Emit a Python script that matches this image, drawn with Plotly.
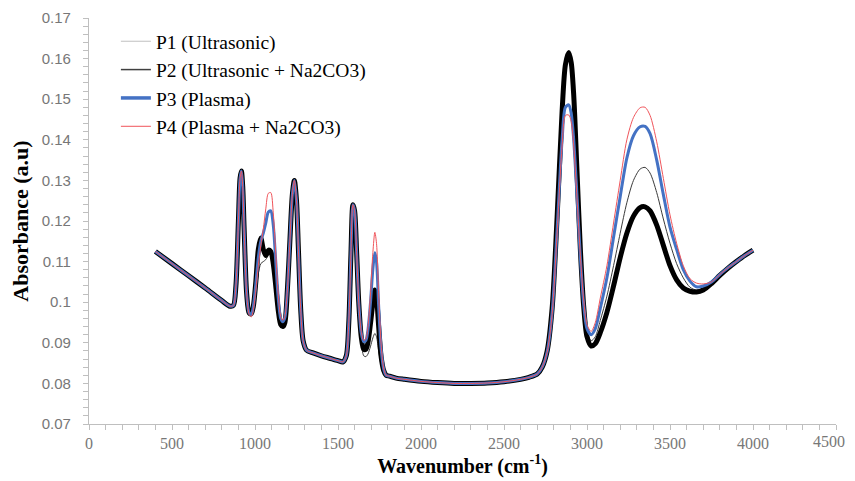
import plotly.graph_objects as go

# Wavenumber grid (cm-1)
wavenumber = [
    400, 500, 600, 700, 800, 850, 870, 885, 900, 910, 918, 926, 935, 950, 965, 978,
    990, 1005, 1020, 1035, 1050, 1065, 1080, 1095, 1110, 1125, 1140, 1155, 1168,
    1180, 1195, 1210, 1225, 1237, 1250, 1262, 1275, 1290, 1310, 1350, 1400, 1450, 1500,
    1530, 1550, 1565, 1578, 1590, 1600, 1612, 1625, 1640,
    1655, 1668, 1680, 1695, 1710, 1722, 1732, 1745, 1760, 1775, 1790,
    1810, 1850, 1900, 2000, 2100, 2200, 2300, 2400, 2500, 2600, 2650, 2700,
    2730, 2760, 2790, 2820, 2850, 2870, 2890, 2905, 2920, 2940, 2960, 2980, 3000,
    3025, 3050, 3080, 3120, 3160, 3200, 3240, 3280, 3320, 3350, 3380, 3420, 3460, 3500,
    3540, 3580, 3620, 3660, 3700,
    3750, 3800, 3850, 3900, 3950, 4000,
]

p1 = [
    0.1125, 0.1095, 0.1065, 0.1035, 0.1004, 0.0990, 0.0992, 0.1040, 0.1200, 0.1305, 0.1323, 0.1285, 0.1175, 0.1020, 0.0973, 0.0972,
    0.0985, 0.1025, 0.1070, 0.1095, 0.1100, 0.1105, 0.1115, 0.1120, 0.1100, 0.1050, 0.0990, 0.0955, 0.0950,
    0.0965, 0.1030, 0.1150, 0.1265, 0.1300, 0.1250, 0.1125, 0.0985, 0.0905, 0.0882, 0.0875, 0.0868, 0.0862, 0.0856,
    0.0853, 0.0868, 0.0950, 0.1120, 0.1240, 0.1225, 0.1125, 0.1000, 0.0905,
    0.0868, 0.0866, 0.0872, 0.0890, 0.0912, 0.0923, 0.0915, 0.0880, 0.0845, 0.0828, 0.0820,
    0.0818, 0.0813, 0.0810, 0.0805, 0.0802, 0.0800, 0.0800, 0.0801, 0.0804, 0.0810, 0.0815, 0.0823,
    0.0840, 0.0880, 0.0985, 0.1205, 0.1462, 0.1575, 0.1603, 0.1580, 0.1500, 0.1315, 0.1135, 0.1000, 0.0930,
    0.0905, 0.0915, 0.0955, 0.1015, 0.1090, 0.1170, 0.1245, 0.1300, 0.1328, 0.1332, 0.1318, 0.1270, 0.1205, 0.1145,
    0.1095, 0.1060, 0.1037, 0.1030, 0.1035,
    0.1050, 0.1068, 0.1085, 0.1100, 0.1115, 0.1128,
]

p2 = [
    0.1125, 0.1095, 0.1065, 0.1035, 0.1004, 0.0990, 0.0992, 0.1040, 0.1200, 0.1305, 0.1323, 0.1285, 0.1175, 0.1020, 0.0973, 0.0972,
    0.0990, 0.1050, 0.1130, 0.1158, 0.1130, 0.1115, 0.1128, 0.1125, 0.1095, 0.1040, 0.0980, 0.0945, 0.0940,
    0.0950, 0.1030, 0.1150, 0.1265, 0.1300, 0.1250, 0.1125, 0.0985, 0.0905, 0.0882, 0.0875, 0.0868, 0.0862, 0.0856,
    0.0853, 0.0868, 0.0950, 0.1120, 0.1240, 0.1225, 0.1125, 0.1000, 0.0915,
    0.0884, 0.0884, 0.0900, 0.0945, 0.0998, 0.1030, 0.1012, 0.0940, 0.0865, 0.0832, 0.0820,
    0.0818, 0.0813, 0.0810, 0.0805, 0.0802, 0.0800, 0.0800, 0.0801, 0.0804, 0.0810, 0.0815, 0.0823,
    0.0840, 0.0880, 0.0985, 0.1210, 0.1470, 0.1585, 0.1615, 0.1590, 0.1510, 0.1320, 0.1130, 0.0990, 0.0915,
    0.0892, 0.0898, 0.0925, 0.0975, 0.1040, 0.1110, 0.1170, 0.1212, 0.1233, 0.1235, 0.1225, 0.1190, 0.1140, 0.1090,
    0.1055, 0.1035, 0.1027, 0.1025, 0.1030,
    0.1046, 0.1066, 0.1084, 0.1100, 0.1115, 0.1128,
]

p3 = [
    0.1125, 0.1095, 0.1065, 0.1035, 0.1004, 0.0990, 0.0992, 0.1040, 0.1200, 0.1305, 0.1323, 0.1285, 0.1175, 0.1020, 0.0973, 0.0970,
    0.0990, 0.1045, 0.1110, 0.1150, 0.1170, 0.1195, 0.1222, 0.1225, 0.1190, 0.1100, 0.1010, 0.0960, 0.0952,
    0.0962, 0.1030, 0.1150, 0.1265, 0.1300, 0.1250, 0.1125, 0.0985, 0.0905, 0.0882, 0.0875, 0.0868, 0.0862, 0.0856,
    0.0853, 0.0868, 0.0950, 0.1120, 0.1240, 0.1225, 0.1125, 0.1000, 0.0925,
    0.0903, 0.0906, 0.0930, 0.0995, 0.1082, 0.1122, 0.1100, 0.0990, 0.0885, 0.0836, 0.0820,
    0.0818, 0.0813, 0.0810, 0.0805, 0.0802, 0.0800, 0.0800, 0.0801, 0.0804, 0.0810, 0.0815, 0.0823,
    0.0840, 0.0878, 0.0975, 0.1180, 0.1400, 0.1480, 0.1486, 0.1465, 0.1400, 0.1260, 0.1110, 0.0995, 0.0935,
    0.0920, 0.0935, 0.0985, 0.1060, 0.1160, 0.1260, 0.1355, 0.1410, 0.1432, 0.1433, 0.1415, 0.1350, 0.1265, 0.1185,
    0.1130, 0.1080, 0.1052, 0.1038, 0.1040,
    0.1050, 0.1068, 0.1085, 0.1100, 0.1115, 0.1128,
]

p4 = [
    0.1125, 0.1095, 0.1065, 0.1035, 0.1004, 0.0990, 0.0992, 0.1040, 0.1200, 0.1305, 0.1323, 0.1285, 0.1175, 0.1020, 0.0970, 0.0964,
    0.0982, 0.1030, 0.1090, 0.1140, 0.1180, 0.1230, 0.1268, 0.1270, 0.1220, 0.1120, 0.1020, 0.0965, 0.0955,
    0.0965, 0.1030, 0.1150, 0.1265, 0.1300, 0.1250, 0.1125, 0.0985, 0.0905, 0.0882, 0.0875, 0.0868, 0.0862, 0.0856,
    0.0853, 0.0868, 0.0950, 0.1120, 0.1240, 0.1225, 0.1125, 0.1000, 0.0928,
    0.0906, 0.0910, 0.0938, 0.1015, 0.1122, 0.1172, 0.1145, 0.1020, 0.0895, 0.0838, 0.0820,
    0.0818, 0.0813, 0.0810, 0.0805, 0.0802, 0.0800, 0.0800, 0.0801, 0.0804, 0.0810, 0.0815, 0.0823,
    0.0840, 0.0877, 0.0970, 0.1170, 0.1385, 0.1460, 0.1461, 0.1445, 0.1385, 0.1255, 0.1115, 0.1005, 0.0945,
    0.0928, 0.0950, 0.1010, 0.1090, 0.1195, 0.1300, 0.1400, 0.1455, 0.1479, 0.1480, 0.1460, 0.1395, 0.1305, 0.1215,
    0.1145, 0.1090, 0.1058, 0.1047, 0.1045,
    0.1050, 0.1068, 0.1085, 0.1100, 0.1115, 0.1128,
]

series_names = ["P1 (Ultrasonic)", "P2 (Ultrasonic + Na2CO3)", "P3 (Plasma)", "P4 (Plasma + Na2CO3)"]
x_tick_vals = [0, 500, 1000, 1500, 2000, 2500, 3000, 3500, 4000, 4500]
x_tick_text = ["0", "500", "1000", "1500", "2000", "2500", "3000", "3500", "4000", "4500"]
y_tick_vals = [0.07, 0.08, 0.09, 0.10, 0.11, 0.12, 0.13, 0.14, 0.15, 0.16, 0.17]
y_tick_text = ["0.07", "0.08", "0.09", "0.1", "0.11", "0.12", "0.13", "0.14", "0.15", "0.16", "0.17"]

plot_styles = [
    dict(color="#3a3a3a", width=1),
    dict(color="#000000", width=5),
    dict(color="#4472C4", width=3),
    dict(color="#F0545A", width=1),
]
legend_styles = [
    dict(color="#BFBFBF", width=1),
    dict(color="#404040", width=1.5),
    dict(color="#4472C4", width=3.5),
    dict(color="#F0545A", width=1),
]

SERIF = "serif"
TICK_GRAY = "#777777"

fig = go.Figure()
for name, ys, st in zip(series_names, [p1, p2, p3, p4], plot_styles):
    fig.add_trace(go.Scatter(x=wavenumber, y=ys, mode="lines", name=name,
                             line=dict(shape="spline", smoothing=0.8, **st),
                             showlegend=False, hoverinfo="skip"))
for name, st in zip(series_names, legend_styles):
    fig.add_trace(go.Scatter(x=[None], y=[None], mode="lines", name=name,
                             line=st, showlegend=True))

# the last x tick label sits at the page edge: draw it as an annotation kept inside the page
shown_tick_text = x_tick_text[:-1] + [""]
fig.add_annotation(x=x_tick_vals[-1], xref="x", y=0, yref="paper", yanchor="top", xanchor="right",
                   xshift=11, yshift=-7, text=x_tick_text[-1], showarrow=False,
                   font=dict(family=SERIF, size=16, color=TICK_GRAY))

axis_gray = "#BFBFBF"
fig.update_layout(
    width=847, height=473,
    margin=dict(l=81, r=19, t=10, b=57),
    paper_bgcolor="white", plot_bgcolor="white",
    font=dict(family=SERIF),
    legend=dict(x=0.036, y=0.99, xanchor="left", yanchor="top",
                font=dict(family=SERIF, size=19.5, color="black"),
                bgcolor="rgba(0,0,0,0)", tracegroupgap=0, itemwidth=30),
    xaxis=dict(range=[0, 4500], tickvals=x_tick_vals, ticktext=shown_tick_text,
               showgrid=False, zeroline=False, automargin=False,
               showline=True, linecolor=axis_gray, linewidth=1.3,
               ticks="outside", ticklen=5, tickcolor=axis_gray,
               minor=dict(dtick=100, ticks="outside", ticklen=5, tickcolor=axis_gray, showgrid=False),
               tickfont=dict(family=SERIF, size=16, color=TICK_GRAY),
               title=dict(text="<b>Wavenumber (cm<sup>-1</sup>)</b>",
                          font=dict(family=SERIF, size=20, color="black"), standoff=7)),
    yaxis=dict(range=[0.07, 0.17], tickvals=y_tick_vals, ticktext=y_tick_text, showgrid=False,
               zeroline=False, automargin=False, showline=True, linecolor=axis_gray, linewidth=1.3,
               ticks="outside", ticklen=5, tickcolor=axis_gray, ticklabelstandoff=9,
               minor=dict(dtick=0.002, tick0=0.07, ticks="outside", ticklen=5, tickcolor=axis_gray, showgrid=False),
               tickfont=dict(family="Liberation Sans, sans-serif", size=15, color=TICK_GRAY),
               title=dict(text="<b>Absorbance (a.u)</b>",
                          font=dict(family=SERIF, size=22, color="black"), standoff=10)),
)

fig.write_html("out.html")
